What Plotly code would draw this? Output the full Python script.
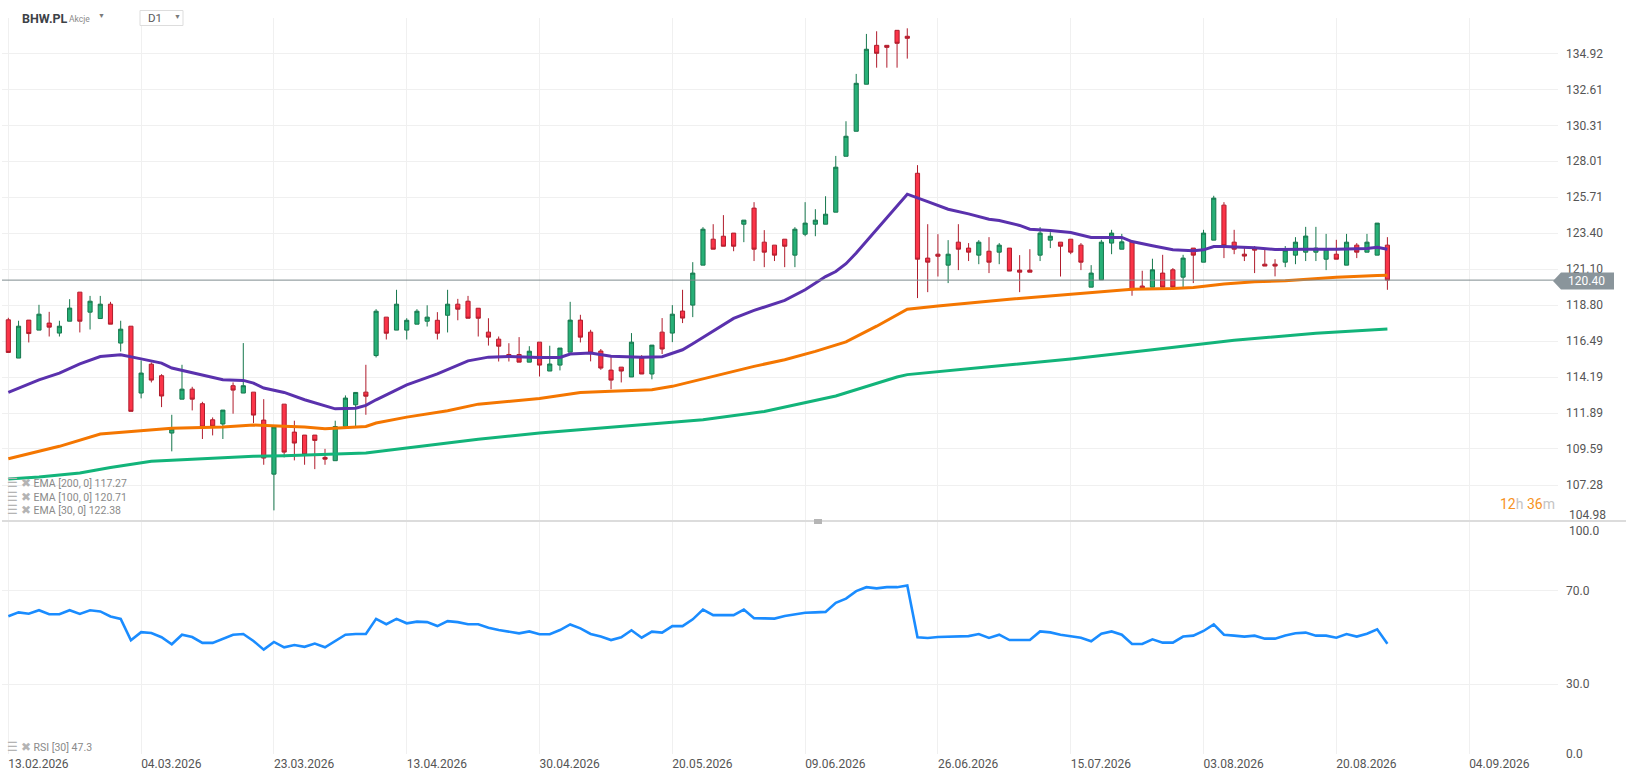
import plotly.graph_objects as go

# ---- values ----
TICKER = "BHW.PL"
ASSET_TYPE = "Akcje"
INTERVAL = "D1"
LAST_PRICE = 120.40
TIMER_H, TIMER_M = "12", "36"

TICK_POS = [0, 13, 26, 39, 52, 65, 78, 91, 104, 117, 130, 143]
TICK_DATES = ["13.02.2026", "04.03.2026", "23.03.2026", "13.04.2026",
              "30.04.2026", "20.05.2026", "09.06.2026", "26.06.2026",
              "15.07.2026", "03.08.2026", "20.08.2026", "04.09.2026"]

PRICE_BOTTOM = 104.98
PRICE_TICKS = [107.28, 109.59, 111.89, 114.19, 116.49, 118.80,
               121.10, 123.40, 125.71, 128.01, 130.31, 132.61, 134.92]
RSI_TICKS = [0, 30, 70]
RSI_TOP = 100

OPEN = [
    117.86, 115.41, 117.84, 117.20, 117.65, 117.01, 117.77, 119.63, 118.35, 117.94,
    118.86, 116.37, 117.45, 113.17, 115.02, 114.28, 110.61, 112.78, 113.42, 112.49,
    111.46, 111.19, 113.64, 113.17, 113.23, 111.44, 107.98, 112.46, 110.67, 110.48,
    110.48, 109.05, 108.84, 111.03, 112.42, 113.23, 115.57, 118.03, 117.20, 117.20,
    117.58, 117.77, 117.83, 118.15, 118.86, 119.05, 118.60, 117.07, 116.62, 115.64,
    115.64, 115.15, 116.43, 114.58, 114.96, 115.79, 117.84, 117.07, 115.86, 114.64,
    114.83, 114.20, 115.41, 114.39, 117.07, 117.01, 118.42, 118.80, 121.36, 123.02,
    123.21, 123.41, 123.98, 125.01, 122.83, 122.64, 123.02, 122.00, 123.34, 123.98,
    123.98, 124.75, 128.33, 129.93, 132.94, 135.43, 135.43, 136.39, 136.01, 127.24,
    121.81, 122.06, 121.36, 122.83, 122.45, 122.00, 122.25, 122.19, 122.45, 121.04,
    121.04, 122.00, 122.96, 122.83, 123.02, 122.64, 119.95, 120.42, 122.77, 122.38,
    122.85, 120.02, 119.95, 120.85, 121.06, 120.59, 122.45, 121.55, 122.96, 125.20,
    122.83, 122.06, 122.45, 121.42, 121.42, 121.55, 122.00, 122.19, 122.19, 121.74,
    122.06, 121.36, 122.64, 122.19, 122.00, 122.64,
]
HIGH = [
    117.99, 117.80, 117.84, 118.82, 118.37, 117.80, 119.18, 119.63, 119.39, 119.39,
    119.01, 117.80, 117.45, 115.26, 115.13, 114.38, 111.78, 114.98, 113.57, 112.61,
    111.61, 112.08, 113.85, 116.37, 113.23, 112.78, 111.00, 112.46, 111.40, 110.48,
    110.48, 109.60, 111.40, 113.02, 113.21, 114.98, 118.54, 118.03, 119.78, 117.96,
    118.54, 118.79, 118.35, 119.78, 119.20, 119.39, 118.60, 117.96, 116.79, 116.36,
    116.75, 116.17, 116.43, 116.20, 116.05, 119.01, 118.18, 117.22, 115.99, 115.60,
    114.83, 117.01, 115.60, 116.24, 117.97, 118.80, 119.78, 121.55, 123.79, 123.98,
    124.56, 123.41, 124.24, 125.39, 123.60, 122.64, 123.02, 123.79, 125.39, 124.94,
    125.77, 128.35, 130.57, 133.60, 136.16, 136.33, 135.43, 136.39, 136.52, 127.76,
    123.98, 123.34, 122.96, 123.98, 122.77, 122.96, 123.15, 122.77, 122.45, 122.00,
    122.38, 123.79, 123.47, 122.83, 123.02, 122.77, 121.36, 122.98, 123.62, 123.36,
    122.85, 121.00, 121.77, 122.02, 121.17, 122.02, 122.45, 123.62, 125.80, 125.39,
    123.62, 122.58, 122.58, 122.38, 121.74, 122.58, 123.15, 123.81, 123.81, 123.36,
    122.98, 123.36, 122.77, 123.36, 124.05, 123.15,
]
LOW = [
    115.77, 115.41, 116.41, 117.20, 116.79, 116.79, 117.77, 117.05, 117.24, 117.94,
    117.58, 115.83, 112.00, 112.83, 113.85, 112.27, 109.44, 112.78, 112.06, 110.23,
    110.46, 110.23, 111.85, 113.17, 111.25, 108.58, 105.66, 109.05, 108.86, 108.58,
    108.30, 108.58, 108.84, 111.03, 111.03, 111.78, 115.45, 116.60, 117.20, 116.60,
    117.58, 117.43, 116.60, 117.05, 117.83, 117.96, 116.79, 116.21, 115.19, 115.19,
    115.15, 115.15, 114.23, 114.58, 114.62, 115.79, 116.41, 115.20, 114.66, 113.41,
    113.85, 114.20, 114.39, 114.05, 115.67, 116.43, 117.65, 118.03, 121.36, 122.38,
    122.57, 122.25, 122.83, 121.62, 121.23, 121.62, 121.23, 121.23, 123.21, 123.21,
    123.98, 124.75, 128.33, 129.93, 132.94, 134.00, 134.00, 134.00, 134.58, 119.25,
    119.63, 120.63, 120.21, 121.04, 121.62, 121.42, 120.85, 121.42, 120.98, 119.63,
    120.91, 121.62, 122.45, 120.63, 122.06, 121.04, 119.95, 120.42, 122.06, 122.38,
    119.40, 119.85, 119.95, 119.95, 119.85, 119.95, 120.21, 121.55, 122.96, 121.81,
    122.06, 121.62, 120.85, 121.30, 120.64, 121.23, 121.42, 121.62, 121.62, 121.04,
    121.74, 121.36, 121.81, 122.19, 122.00, 119.78,
]
CLOSE = [
    115.77, 117.45, 116.98, 118.22, 117.39, 117.45, 118.61, 117.77, 119.05, 118.86,
    117.58, 117.26, 112.00, 114.45, 114.00, 112.98, 110.87, 113.42, 112.78, 110.99,
    111.04, 112.08, 113.36, 113.64, 111.76, 109.01, 111.00, 109.39, 109.97, 109.22,
    110.14, 108.94, 111.03, 112.85, 113.21, 112.97, 118.41, 117.00, 118.86, 117.83,
    118.41, 118.03, 117.00, 118.86, 118.54, 117.96, 117.96, 116.75, 116.17, 115.51,
    115.15, 115.85, 114.96, 115.03, 116.05, 117.84, 116.75, 115.73, 114.77, 114.00,
    114.58, 116.43, 114.39, 116.24, 115.99, 118.22, 117.97, 120.85, 123.66, 122.38,
    122.57, 122.57, 124.24, 122.38, 122.19, 122.00, 122.57, 123.66, 124.05, 124.24,
    124.62, 127.63, 129.61, 133.00, 135.18, 134.92, 135.30, 135.56, 135.88, 121.74,
    121.55, 121.93, 122.06, 122.38, 122.19, 122.83, 121.55, 122.64, 120.98, 120.91,
    120.91, 123.41, 123.21, 122.57, 122.19, 121.55, 120.85, 122.83, 123.41, 122.85,
    119.78, 119.85, 121.06, 119.95, 119.95, 121.81, 122.00, 123.41, 125.65, 122.60,
    122.38, 121.94, 122.32, 121.30, 121.30, 122.32, 122.83, 123.22, 122.45, 122.38,
    121.74, 122.83, 122.19, 122.83, 124.05, 120.40,
]

# moving averages, read at the bars where the lines bend
EMA30_AT = [0, 3, 5, 7, 9, 11, 13, 15, 16, 19, 21, 23, 24, 25, 27, 29, 32, 34,
            35, 36, 39, 42, 45, 47, 49, 52, 54, 55, 57, 59, 62, 64, 65, 66, 67,
            69, 71, 73, 75, 76, 78, 79, 80, 81, 82, 83, 84, 85, 86, 87, 88, 90,
            92, 94, 96, 97, 99, 100, 102, 104, 106, 109, 110, 112, 114, 116, 117,
            118, 119, 122, 124, 127, 130, 133, 134, 135]
EMA30 = [113.21, 114.02, 114.45, 115.04, 115.51, 115.62, 115.36, 115.09, 114.77,
         114.34, 114.02, 113.98, 113.81, 113.49, 113.21, 112.74, 112.16, 112.20,
         112.38, 112.74, 113.70, 114.40, 115.23, 115.47, 115.51, 115.45, 115.45,
         115.67, 115.73, 115.52, 115.47, 115.50, 115.73, 115.94, 116.33, 117.12,
         117.95, 118.46, 118.89, 119.10, 119.78, 120.21, 120.63, 120.95, 121.45,
         122.13, 122.89, 123.64, 124.40, 125.15, 125.90, 125.43, 124.94, 124.64,
         124.30, 124.22, 123.90, 123.66, 123.58, 123.45, 123.13, 123.13, 122.87,
         122.60, 122.34, 122.28, 122.34, 122.55, 122.55, 122.47, 122.36, 122.38,
         122.38, 122.43, 122.51, 122.38]

EMA100_AT = [0, 5, 9, 12, 16, 21, 24, 27, 29, 31, 35, 36, 39, 43, 46, 52, 56, 59,
             63, 65, 67, 70, 73, 76, 79, 82, 85, 88, 91, 98, 105, 107, 110, 114,
             116, 119, 122, 125, 127, 130, 134, 135]
EMA100 = [108.97, 109.76, 110.55, 110.72, 110.91, 111.00, 111.12, 111.04, 110.99,
          110.88, 111.03, 111.25, 111.63, 112.04, 112.46, 112.82, 113.21, 113.28,
          113.38, 113.60, 113.92, 114.41, 114.88, 115.30, 115.84, 116.45, 117.45,
          118.54, 118.75, 119.18, 119.56, 119.65, 119.82, 119.87, 119.93, 120.15,
          120.29, 120.36, 120.47, 120.59, 120.70, 120.71]

EMA200_AT = [0, 3, 7, 10, 14, 19, 24, 27, 35, 39, 46, 52, 58, 68, 74, 81, 87, 88,
             96, 104, 112, 120, 128, 135]
EMA200 = [107.67, 107.80, 108.05, 108.41, 108.80, 108.97, 109.12, 109.16, 109.33,
          109.65, 110.22, 110.61, 110.93, 111.46, 111.99, 112.98, 114.20, 114.35,
          114.85, 115.35, 115.95, 116.55, 117.00, 117.27]

RSI30 = [
    59.1, 60.8, 60.2, 61.7, 60.0, 60.0, 61.7, 60.1, 61.7, 61.2,
    59.0, 58.0, 48.8, 52.3, 51.9, 50.1, 47.1, 51.2, 50.2, 47.7,
    47.7, 49.4, 51.2, 51.5, 48.5, 44.8, 48.1, 45.8, 46.8, 46.0,
    47.4, 45.8, 48.5, 51.2, 51.5, 51.5, 58.0, 55.7, 58.0, 56.1,
    56.8, 56.6, 54.9, 57.0, 56.6, 55.7, 55.7, 54.2, 53.2, 52.5,
    51.8, 52.6, 51.4, 51.4, 53.2, 55.6, 53.9, 51.5, 50.4, 48.9,
    50.1, 53.1, 49.9, 52.5, 52.1, 54.9, 54.9, 57.8, 62.0, 59.6,
    59.6, 59.6, 62.0, 58.3, 58.2, 58.1, 59.2, 59.9, 60.6, 60.8,
    61.0, 64.9, 66.7, 69.9, 71.6, 71.1, 71.6, 71.6, 72.3, 50.1,
    49.8, 50.2, 50.4, 50.5, 50.6, 51.5, 49.8, 51.2, 48.9, 48.9,
    48.9, 52.6, 52.2, 51.2, 50.6, 49.9, 48.4, 51.6, 52.6, 51.2,
    47.2, 47.2, 49.2, 47.8, 47.8, 50.4, 50.8, 52.8, 55.6, 51.2,
    50.8, 50.4, 50.8, 49.5, 49.5, 50.9, 51.8, 52.1, 50.8, 50.8,
    49.9, 51.5, 50.4, 51.6, 53.5, 47.3,
]

BARS = list(range(len(CLOSE)))

# ---- styling ----
FONT = "Roboto, 'Open Sans', sans-serif"
UP_FILL, UP_LINE = "#27b077", "#16774d"
DN_FILL, DN_LINE = "#fb3448", "#b01c2c"
C_EMA30, C_EMA100, C_EMA200 = "#5a31ad", "#f47600", "#12b47a"
C_RSI = "#1a8cff"
GRID = "#f0f0f0"
LABEL = "#555555"
LEGEND = "#8a8a8a"

# pixel frame of the plotting area inside the 1626x779 page
W, H = 1626, 779
PL, PR, PT, PB = 2, 1558, 18, 754
SPLIT_Y = 521


def px(x):
    return (x - PL) / (PR - PL)


def py(y):
    return (PB - y) / (PB - PT)


SPLIT = py(SPLIT_Y)
XRANGE = [-0.62, 151.7]

fig = go.Figure()

fig.add_trace(
    go.Candlestick(
        x=BARS, open=OPEN, high=HIGH, low=LOW, close=CLOSE,
        increasing=dict(fillcolor=UP_FILL, line=dict(color=UP_LINE, width=1)),
        decreasing=dict(fillcolor=DN_FILL, line=dict(color=DN_LINE, width=1)),
        whiskerwidth=0, showlegend=False, xaxis="x", yaxis="y",
    )
)
for at, vals, color in [
    (EMA200_AT, EMA200, C_EMA200),
    (EMA100_AT, EMA100, C_EMA100),
    (EMA30_AT, EMA30, C_EMA30),
]:
    fig.add_trace(
        go.Scatter(x=at, y=vals, mode="lines", line=dict(color=color, width=3),
                   showlegend=False, hoverinfo="skip", xaxis="x", yaxis="y")
    )

fig.add_trace(
    go.Scatter(x=BARS, y=RSI30, mode="lines", line=dict(color=C_RSI, width=2.6),
               showlegend=False, xaxis="x2", yaxis="y2")
)

tick_font = dict(family=FONT, size=12, color=LABEL)
common_x = dict(tickvals=TICK_POS, showgrid=True, gridcolor=GRID, gridwidth=1,
                zeroline=False, showline=False, ticks="")
common_y = dict(side="right", showgrid=True, gridcolor=GRID, gridwidth=1,
                zeroline=False, showline=False, ticks="", tickfont=tick_font,
                ticklabelstandoff=7, fixedrange=True)

fig.update_layout(
    width=W, height=H,
    margin=dict(l=PL, r=W - PR, t=PT, b=H - PB),
    paper_bgcolor="white", plot_bgcolor="white",
    font=dict(family=FONT, color=LABEL),
    boxgap=0.42,
    xaxis=dict(domain=[0, 1], anchor="y", range=XRANGE, showticklabels=False,
               rangeslider=dict(visible=False), **common_x),
    xaxis2=dict(domain=[0, 1], anchor="y2", matches="x", ticktext=TICK_DATES,
                ticklabelposition="outside right", tickfont=tick_font,
                ticklabelstandoff=1, **common_x),
    yaxis=dict(domain=[SPLIT, 1], anchor="x", range=[PRICE_BOTTOM, 137.18],
               tickvals=PRICE_TICKS, ticktext=[f"{v:.2f}" for v in PRICE_TICKS],
               **common_y),
    yaxis2=dict(domain=[0, SPLIT], anchor="x2", range=[0, RSI_TOP],
                tickvals=RSI_TICKS, ticktext=[f"{v:.1f}" for v in RSI_TICKS],
                **common_y),
)

shapes = [
    # last price line
    dict(type="line", xref="paper", yref="y", x0=0, x1=1, y0=LAST_PRICE,
         y1=LAST_PRICE, line=dict(color="#7f8b8f", width=1), layer="above"),
    # price tag arrow
    dict(type="path", xref="paper", yref="y", xsizemode="pixel", ysizemode="pixel",
         xanchor=1, yanchor=LAST_PRICE,
         path="M -5,-1 L 3,7.5 L 56,7.5 L 56,-9.5 L 3,-9.5 Z",
         fillcolor="#8a959b", line=dict(width=0), layer="above"),
    # pane separator
    dict(type="line", xref="paper", yref="paper", x0=0, x1=px(W), y0=SPLIT,
         y1=SPLIT, line=dict(color="#dcdcdc", width=2)),
    dict(type="rect", xref="paper", yref="paper", x0=px(814), x1=px(822),
         y0=py(524), y1=py(519), fillcolor="#b5b5b5", line=dict(width=0)),
    # interval selector box
    dict(type="rect", xref="paper", yref="paper", x0=px(140), x1=px(183),
         y0=py(25.5), y1=py(10.5), fillcolor="white",
         line=dict(color="#dddddd", width=1)),
]

icons = '<span style="color:#b4b4b4;font-size:11.5px">☰ ✖</span> '
legend_font = dict(size=10.5, color=LEGEND)
annotations = [
    dict(text=f"<b>{TICKER}</b>", x=px(20), y=py(18), font=dict(size=12.5, color="#3d4247")),
    dict(text=ASSET_TYPE, x=px(67), y=py(19), font=dict(size=8.5, color="#8a8a8a")),
    dict(text="▼", x=px(96), y=py(16), font=dict(size=7, color="#7a7a7a")),
    dict(text=INTERVAL, x=px(146), y=py(18), font=dict(size=11.5, color="#5a5a5a")),
    dict(text="▼", x=px(172), y=py(17), font=dict(size=7, color="#7a7a7a")),
    dict(text=icons + f"EMA [200, 0] {EMA200[-1]:.2f}", x=px(5), y=py(482.5),
         font=dict(legend_font)),
    dict(text=icons + f"EMA [100, 0] {EMA100[-1]:.2f}", x=px(5), y=py(496.5),
         font=dict(legend_font)),
    dict(text=icons + f"EMA [30, 0] {EMA30[-1]:.2f}", x=px(5), y=py(510.5),
         font=dict(legend_font)),
    dict(text=icons + f"RSI [30] {RSI30[-1]:.1f}", x=px(5), y=py(746.5),
         font=dict(legend_font)),
    # the two labels meeting at the pane border sit just off their grid lines
    dict(text=f"{PRICE_BOTTOM:.2f}", x=px(1567), y=py(515), font=tick_font),
    dict(text=f"{RSI_TOP:.1f}", x=px(1567), y=py(531), font=tick_font),
    dict(text=(f'<span style="color:#f7931e">{TIMER_H}</span>'
               f'<span style="color:#c4c4c4">h</span> '
               f'<span style="color:#f7931e">{TIMER_M}</span>'
               f'<span style="color:#c4c4c4">m</span>'),
         x=px(1557), y=py(503.5), xanchor="right", font=dict(size=14)),
]
for a in annotations:
    a.setdefault("xref", "paper")
    a.setdefault("yref", "paper")
    a.setdefault("xanchor", "left")
    a.setdefault("yanchor", "middle")
    a.setdefault("showarrow", False)
    a["font"].setdefault("family", FONT)

annotations.append(
    dict(text=f"{LAST_PRICE:.2f}", xref="paper", yref="y", x=1, y=LAST_PRICE,
         xanchor="left", yanchor="middle", xshift=8, yshift=-1, showarrow=False,
         font=dict(family=FONT, size=12, color="white"))
)

fig.update_layout(shapes=shapes, annotations=annotations)

fig.write_html("out.html", config={"displayModeBar": False},
               post_script="document.body.style.margin='0';")
